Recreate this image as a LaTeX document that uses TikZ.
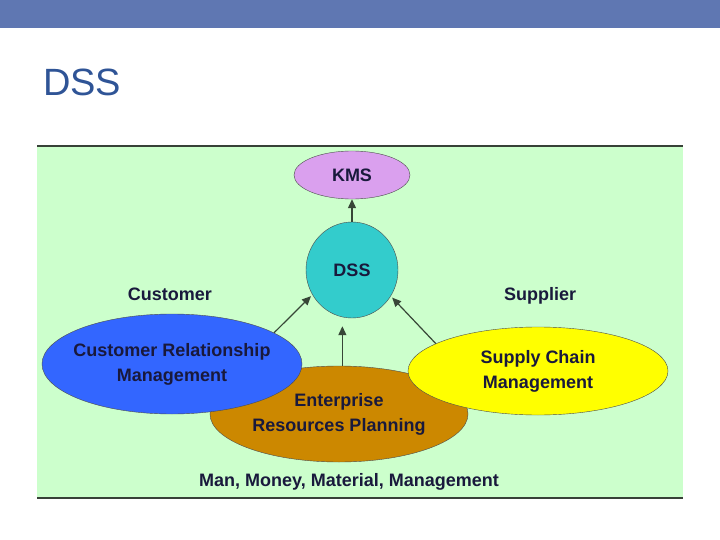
\documentclass[tikz,border=0pt]{standalone}
\usepackage{fontspec}
\setmainfont{Liberation Sans}
\usepackage{xcolor}
\usetikzlibrary{shapes.geometric, arrows.meta}
\definecolor{barblue}{RGB}{95,119,178}
\definecolor{titleblue}{RGB}{47,84,150}
\definecolor{panelgreen}{RGB}{204,255,204}
\definecolor{panelline}{RGB}{55,65,55}
\definecolor{kmsfill}{RGB}{218,160,238}
\definecolor{dssfill}{RGB}{51,204,204}
\definecolor{crmfill}{RGB}{51,102,255}
\definecolor{erpfill}{RGB}{204,136,0}
\definecolor{scmfill}{RGB}{255,255,0}
\definecolor{inktext}{RGB}{25,25,60}
\definecolor{arrowink}{RGB}{55,70,55}

\begin{document}
\begin{tikzpicture}[
        x=1pt, y=-1pt,
        blob/.style={draw=black!70, ellipse, inner sep=0pt, align=center,
            font=\fontsize{18}{25}\selectfont\bfseries, text=inktext},
        lbl/.style={font=\fontsize{18}{20}\selectfont\bfseries, text=inktext, inner sep=0pt},
        arr/.style={-{Triangle[length=9pt, width=8pt]}, draw=arrowink, line width=1.2pt}
    ]
    \useasboundingbox (0,0) rectangle (720,540);

    % slide frame
    \fill[barblue] (0,0) rectangle (720,28);
    \node[anchor=west, text=titleblue, font=\fontsize{38}{40}\selectfont, inner sep=0pt] (title) at (43,82) {DSS};
    \fill[panelgreen] (37,146) rectangle (683,498);
    \draw[panelline, line width=2.5pt] (37,146) -- (683,146);
    \draw[panelline, line width=2.5pt] (37,498) -- (683,498);

    % ellipses
    \node[blob, fill=kmsfill, minimum width=116pt, minimum height=48pt] (kms) at (352,175) {KMS};
    \node[blob, fill=dssfill, minimum width=92pt, minimum height=96pt] (dss) at (352,270) {DSS};
    \node[blob, fill=erpfill, minimum width=258pt, minimum height=96pt] (erp) at (339,414) {Enterprise\\Resources Planning};
    \node[blob, fill=crmfill, inner xsep=-12pt, minimum width=260pt, minimum height=100pt] (crm) at (172,364) {Customer Relationship\\Management};
    \node[blob, fill=scmfill, minimum width=260pt, minimum height=88pt] (scm) at (538,371) {Supply Chain\\Management};

    % labels
    \node[lbl] (cust) at (170,294) {Customer};
    \node[lbl] (supp) at (540,296) {Supplier};
    \node[lbl] (mmmm) at (349,482) {Man, Money, Material, Management};

    % arrows
    \draw[arr] (dss.north) -- (kms.south);
    \draw[arr, shorten >=2pt] (crm.17) -- (dss.212);
    \draw[arr, shorten >=2pt] (scm.165) -- (dss.326);
    \draw[arr, shorten >=8pt] (erp.86) -- (erp.86 |- dss.south);

\end{tikzpicture}
\end{document}
